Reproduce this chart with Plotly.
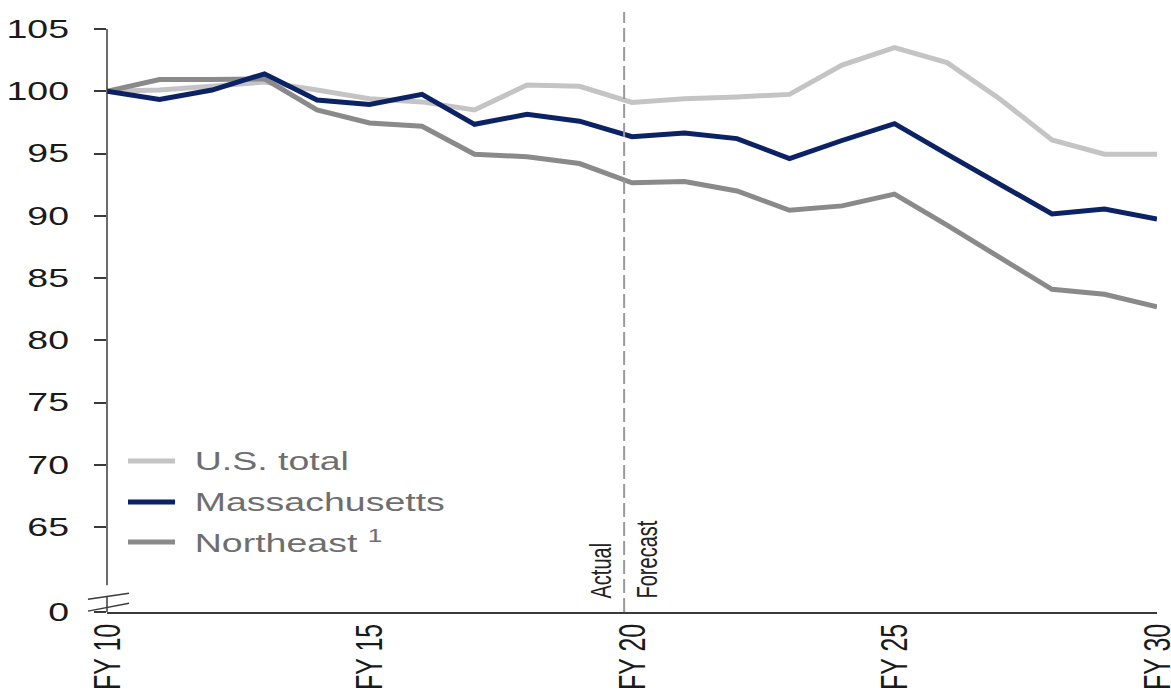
import plotly.graph_objects as go

# Fiscal years (FY 10 .. FY 30)
fiscal_years = list(range(10, 31))

# Index values, FY 10 = 100
us_total = [100.0, 100.1, 100.4, 100.75, 100.1, 99.4, 99.15, 98.5, 100.5, 100.4,
            99.1, 99.4, 99.55, 99.75, 102.1, 103.5, 102.3, 99.4, 96.1, 94.95, 94.95]
massachusetts = [100.0, 99.35, 100.1, 101.4, 99.3, 98.95, 99.75, 97.35, 98.15, 97.6,
                 96.35, 96.65, 96.2, 94.6, 96.05, 97.4, 94.95, 92.6, 90.15, 90.55, 89.75]
northeast = [100.0, 100.95, 100.95, 101.0, 98.5, 97.45, 97.2, 94.95, 94.75, 94.2,
             92.65, 92.75, 92.0, 90.45, 90.8, 91.75, 89.25, 86.7, 84.1, 83.7, 82.7]

series_names = ["U.S. total", "Massachusetts", "Northeast <sup>1</sup>"]
series_colors = ["#C4C4C4", "#0B2265", "#8A8A8A"]

# Axis ticks; the axis is broken below 65, with "0" drawn at the floor
x_tick_vals = [10, 15, 20, 25, 30]
x_tick_text = ["FY 10", "FY 15", "FY 20", "FY 25", "FY 30"]
axis_floor = 58.2
y_tick_vals = [axis_floor, 65, 70, 75, 80, 85, 90, 95, 100, 105]
y_tick_text = ["0", "65", "70", "75", "80", "85", "90", "95", "100", "105"]

forecast_start = 19.85

FONT = "Liberation Sans, Arial, sans-serif"
AXIS_COLOR = "#3a3a3a"
LINE_W = 5

fig = go.Figure()

# draw order: U.S. total underneath, Massachusetts on top
for values, idx in ((us_total, 0), (northeast, 2), (massachusetts, 1)):
    fig.add_trace(go.Scatter(
        x=fiscal_years, y=values, mode="lines", name=series_names[idx],
        line=dict(color=series_colors[idx], width=LINE_W),
        showlegend=False, hoverinfo="x+y+name",
    ))

shapes = [
    # y axis line above the break
    dict(type="line", xref="paper", yref="y", x0=0, x1=0, y0=60.35, y1=105,
         line=dict(color=AXIS_COLOR, width=1.5)),
    # stub of the axis between the break marks
    dict(type="line", xref="paper", yref="y", x0=0, x1=0, y0=axis_floor, y1=59.45,
         line=dict(color=AXIS_COLOR, width=1.5)),
    # break marks
    dict(type="line", xref="paper", yref="y", x0=-0.0181, x1=0.021, y0=59.23, y1=59.71,
         line=dict(color=AXIS_COLOR, width=1.5)),
    dict(type="line", xref="paper", yref="y", x0=-0.0181, x1=0.021, y0=58.27, y1=58.91,
         line=dict(color=AXIS_COLOR, width=1.5)),
    # actual / forecast divider
    dict(type="line", xref="x", yref="paper", x0=forecast_start, x1=forecast_start,
         y0=0, y1=1.029, line=dict(color="#9A9A9A", width=2, dash="14px,5px")),
]

annotations = [
    dict(text="Actual", xref="x", yref="paper", x=forecast_start, y=0.02,
         xanchor="right", yanchor="bottom", xshift=-4, textangle=-90,
         showarrow=False, font=dict(family=FONT, size=20, color="#222222")),
    dict(text="Forecast", xref="x", yref="paper", x=forecast_start, y=0.02,
         xanchor="left", yanchor="bottom", xshift=3, textangle=-90,
         showarrow=False, font=dict(family=FONT, size=20, color="#222222")),
]

# legend, drawn in the lower-left corner of the plot
legend_rows_y = [0.259, 0.1887, 0.120]
for name, color, ly in zip(series_names, series_colors, legend_rows_y):
    shapes.append(dict(type="line", xref="paper", yref="paper", x0=0.02, x1=0.0648,
                       y0=ly, y1=ly, line=dict(color=color, width=LINE_W)))
    annotations.append(dict(text=name, xref="paper", yref="paper", x=0.0805, y=ly,
                            xanchor="left", yanchor="middle", showarrow=False,
                            font=dict(family=FONT, size=25, color="#6E6E6E")))

fig.update_layout(
    width=1171, height=691,
    margin=dict(l=107, r=14, t=29, b=79),
    paper_bgcolor="white", plot_bgcolor="white",
    font=dict(family=FONT, size=25, color="#1A1A1A"),
    shapes=shapes, annotations=annotations,
    xaxis=dict(
        range=[10, 30], tickvals=x_tick_vals, ticktext=x_tick_text,
        tickangle=-90, showgrid=False, zeroline=False, showline=True,
        linecolor=AXIS_COLOR, linewidth=1.5, ticks="", automargin=False,
        tickfont=dict(family=FONT, size=25, color="#1A1A1A"),
    ),
    yaxis=dict(
        range=[axis_floor, 105], tickvals=y_tick_vals, ticktext=y_tick_text,
        showgrid=False, zeroline=False, showline=False,
        ticks="outside", ticklen=12, tickwidth=1.5, tickcolor=AXIS_COLOR,
        ticklabelstandoff=20, automargin=False,
        tickfont=dict(family=FONT, size=25, color="#1A1A1A"),
    ),
)

# Widen the lettering horizontally (screen space), keeping each label's anchor edge fixed
WIDEN_TEXT = """
var gd = document.getElementById('{plot_id}');
var K = 1.5;
var svg = gd.querySelector('svg.main-svg');
function widen(el, mode) {
  var r = el.getBoundingClientRect();
  if (!r.width) { return; }
  var sx = mode === 'left' ? r.left : (mode === 'right' ? r.right : (r.left + r.right) / 2);
  var p = svg.createSVGPoint(); p.x = sx; p.y = r.top;
  var q = p.matrixTransform(el.parentNode.getScreenCTM().inverse());
  var prev = el.getAttribute('transform') || '';
  el.setAttribute('transform', 'translate(' + q.x + ',0) scale(' + K + ',1) translate(' + (-q.x) + ',0) ' + prev);
}
gd.querySelectorAll('.ytick text').forEach(function (t) { widen(t, 'right'); });
gd.querySelectorAll('.xtick text').forEach(function (t) { widen(t, 'center'); });
gd.querySelectorAll('g.annotation').forEach(function (g) {
  var i = +g.getAttribute('data-index');
  widen(g, i === 0 ? 'right' : 'left');
});
"""

fig.write_html("out.html", post_script=WIDEN_TEXT)
